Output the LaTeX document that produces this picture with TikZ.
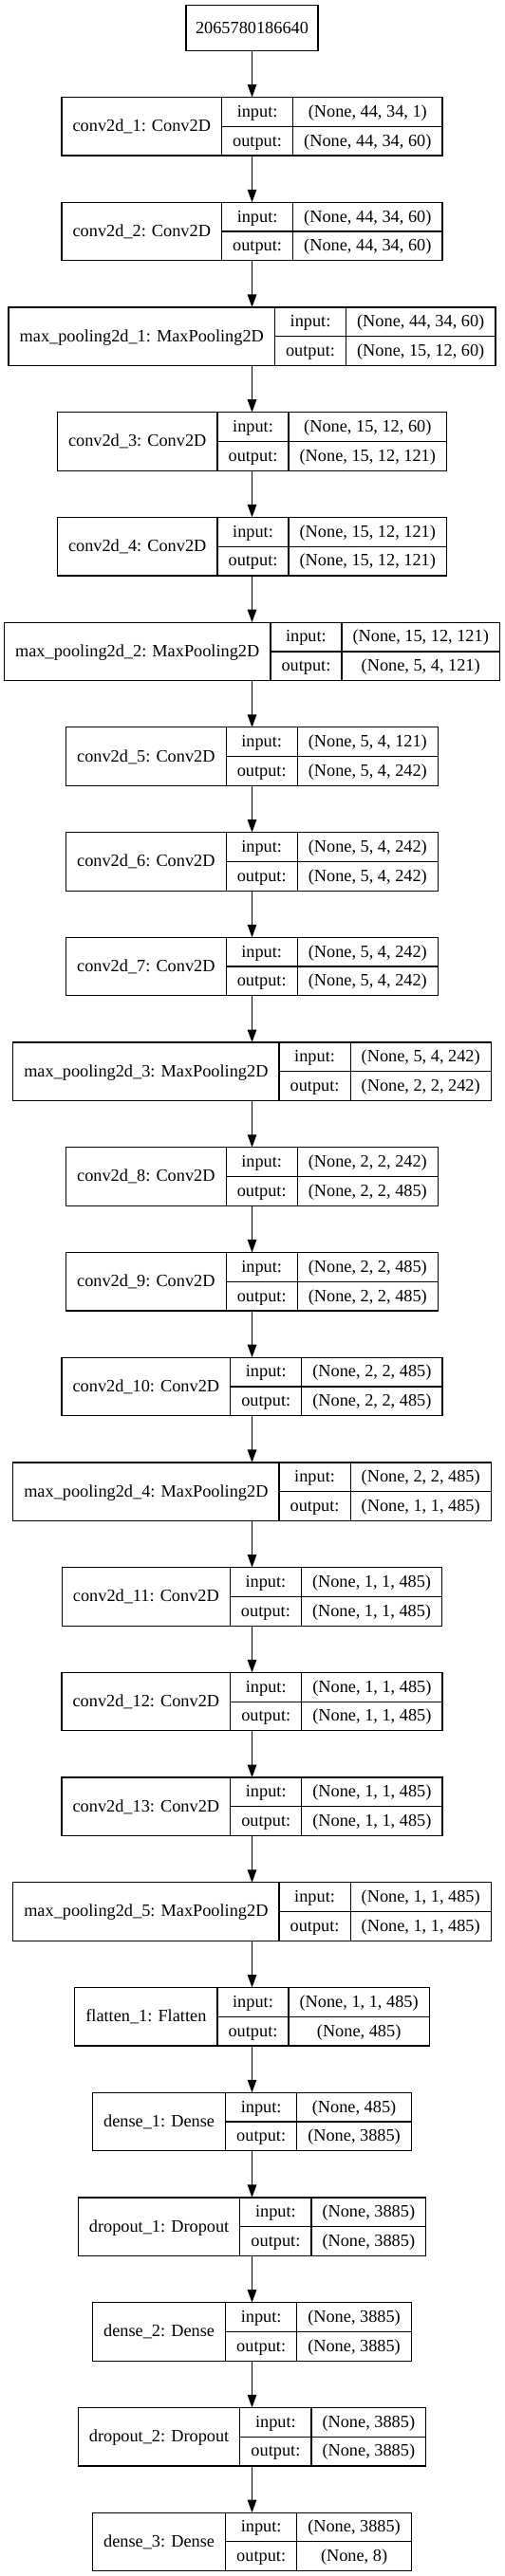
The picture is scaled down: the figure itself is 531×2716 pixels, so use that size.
\documentclass[tikz,border=0pt]{standalone}
\usepackage{fontspec}
\setmainfont{Liberation Serif}
\usetikzlibrary{arrows.meta,matrix,calc}
\newcommand\lfont{\fontsize{18.3}{22}\selectfont}
\tikzset{
  rec/.style={draw, line width=1.2pt, inner sep=0pt, outer sep=0pt, rectangle},
  recm/.style={matrix of nodes, ampersand replacement=\&, inner sep=0pt, outer sep=0pt,
    column sep=0pt, row sep=0pt, anchor=center,
    nodes={font=\lfont, anchor=center, inner xsep=11.6pt, inner ysep=0pt, outer sep=0pt,
      minimum height=30.75pt, text height=14pt, text depth=3.2pt}},
  namelbl/.style={font=\lfont, inner sep=0pt, outer sep=0pt, text height=14pt, text depth=3.2pt},
  sepline/.style={line width=1.2pt},
  arr/.style={line width=1.2pt, -{Triangle[length=13.5pt,width=9.5pt]}},
}
% #1 node name, #2 rank index, #3 title, #4 input shape, #5 output shape
\newcommand\layer[5]{%
  \pgfmathsetmacro\yc{102.55+110.72*#2+30.75}%
  \matrix[recm] (#1) at (265.5,\yc) {
    {\phantom{#3}} \& {input:} \& {#4} \\
    \& {output:} \& {#5} \\
  };
  \draw[sepline] (#1.north west) rectangle (#1.south east);
  \draw[sepline] (#1-2-2.west |- #1.north) -- (#1-2-2.west |- #1.south);
  \draw[sepline] (#1-2-2.east |- #1.north) -- (#1-2-2.east |- #1.south);
  \draw[sepline] (#1-2-2.west |- #1.center) -- (#1.east);
  \node[namelbl] (#1-name) at ($(#1.west)!0.5!(#1-2-2.west |- #1.west)$) {#3};
}
\begin{document}
\begin{tikzpicture}[x=1pt,y=-1pt]
\useasboundingbox (0,0) rectangle (531,2716);
\node[rec, minimum width=139pt, minimum height=48pt, font=\lfont] (in) at (265.5,29.33) {2065780186640};
\layer{L0}{0}{conv2d\_1: Conv2D}{(None, 44, 34, 1)}{(None, 44, 34, 60)}
\layer{L1}{1}{conv2d\_2: Conv2D}{(None, 44, 34, 60)}{(None, 44, 34, 60)}
\layer{L2}{2}{max\_pooling2d\_1: MaxPooling2D}{(None, 44, 34, 60)}{(None, 15, 12, 60)}
\layer{L3}{3}{conv2d\_3: Conv2D}{(None, 15, 12, 60)}{(None, 15, 12, 121)}
\layer{L4}{4}{conv2d\_4: Conv2D}{(None, 15, 12, 121)}{(None, 15, 12, 121)}
\layer{L5}{5}{max\_pooling2d\_2: MaxPooling2D}{(None, 15, 12, 121)}{(None, 5, 4, 121)}
\layer{L6}{6}{conv2d\_5: Conv2D}{(None, 5, 4, 121)}{(None, 5, 4, 242)}
\layer{L7}{7}{conv2d\_6: Conv2D}{(None, 5, 4, 242)}{(None, 5, 4, 242)}
\layer{L8}{8}{conv2d\_7: Conv2D}{(None, 5, 4, 242)}{(None, 5, 4, 242)}
\layer{L9}{9}{max\_pooling2d\_3: MaxPooling2D}{(None, 5, 4, 242)}{(None, 2, 2, 242)}
\layer{L10}{10}{conv2d\_8: Conv2D}{(None, 2, 2, 242)}{(None, 2, 2, 485)}
\layer{L11}{11}{conv2d\_9: Conv2D}{(None, 2, 2, 485)}{(None, 2, 2, 485)}
\layer{L12}{12}{conv2d\_10: Conv2D}{(None, 2, 2, 485)}{(None, 2, 2, 485)}
\layer{L13}{13}{max\_pooling2d\_4: MaxPooling2D}{(None, 2, 2, 485)}{(None, 1, 1, 485)}
\layer{L14}{14}{conv2d\_11: Conv2D}{(None, 1, 1, 485)}{(None, 1, 1, 485)}
\layer{L15}{15}{conv2d\_12: Conv2D}{(None, 1, 1, 485)}{(None, 1, 1, 485)}
\layer{L16}{16}{conv2d\_13: Conv2D}{(None, 1, 1, 485)}{(None, 1, 1, 485)}
\layer{L17}{17}{max\_pooling2d\_5: MaxPooling2D}{(None, 1, 1, 485)}{(None, 1, 1, 485)}
\layer{L18}{18}{flatten\_1: Flatten}{(None, 1, 1, 485)}{(None, 485)}
\layer{L19}{19}{dense\_1: Dense}{(None, 485)}{(None, 3885)}
\layer{L20}{20}{dropout\_1: Dropout}{(None, 3885)}{(None, 3885)}
\layer{L21}{21}{dense\_2: Dense}{(None, 3885)}{(None, 3885)}
\layer{L22}{22}{dropout\_2: Dropout}{(None, 3885)}{(None, 3885)}
\layer{L23}{23}{dense\_3: Dense}{(None, 3885)}{(None, 8)}
\draw[arr] (in) -- (L0);
\foreach \i [evaluate=\i as \j using int(\i+1)] in {0,...,22}
  \draw[arr] (L\i) -- (L\j);
\end{tikzpicture}
\end{document}
